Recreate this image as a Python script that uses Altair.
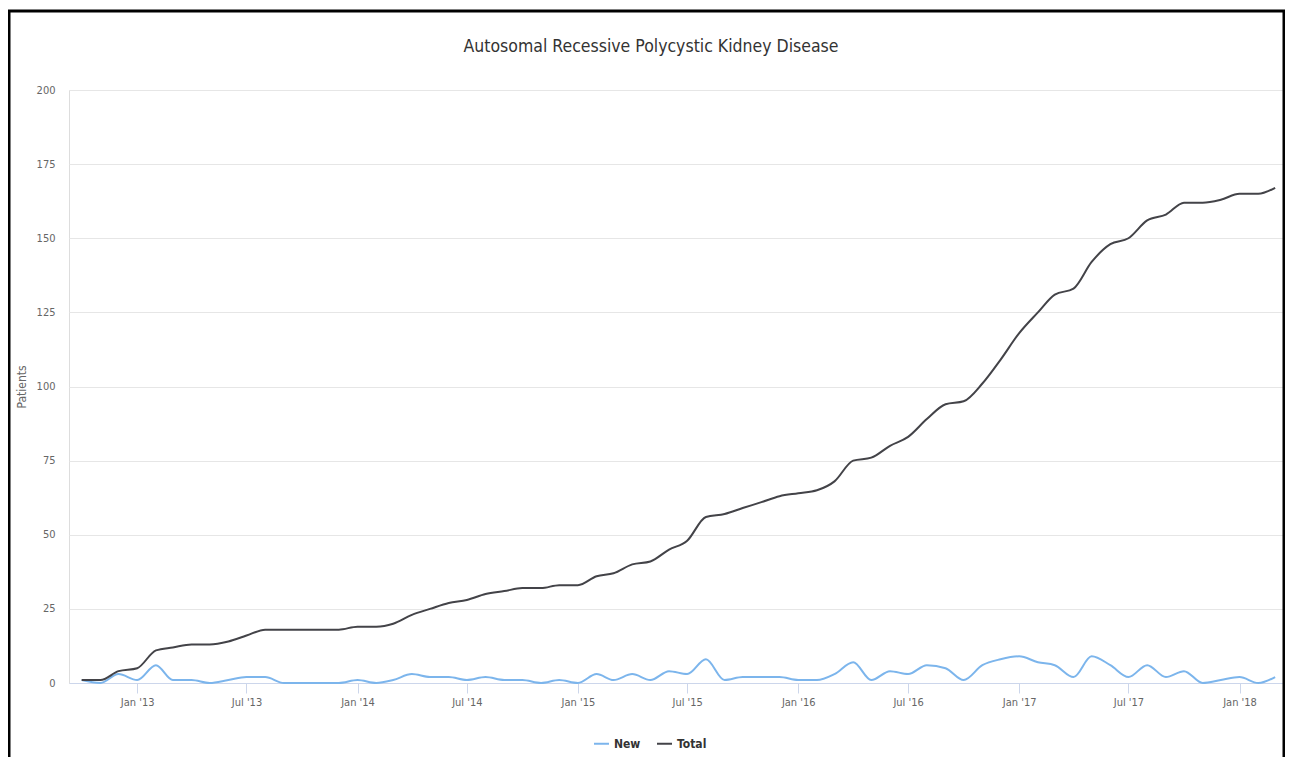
import altair as alt
import pandas as pd

months = [
    "2012-10-01", "2012-11-01", "2012-12-01",
    "2013-01-01", "2013-02-01", "2013-03-01", "2013-04-01", "2013-05-01", "2013-06-01",
    "2013-07-01", "2013-08-01", "2013-09-01", "2013-10-01", "2013-11-01", "2013-12-01",
    "2014-01-01", "2014-02-01", "2014-03-01", "2014-04-01", "2014-05-01", "2014-06-01",
    "2014-07-01", "2014-08-01", "2014-09-01", "2014-10-01", "2014-11-01", "2014-12-01",
    "2015-01-01", "2015-02-01", "2015-03-01", "2015-04-01", "2015-05-01", "2015-06-01",
    "2015-07-01", "2015-08-01", "2015-09-01", "2015-10-01", "2015-11-01", "2015-12-01",
    "2016-01-01", "2016-02-01", "2016-03-01", "2016-04-01", "2016-05-01", "2016-06-01",
    "2016-07-01", "2016-08-01", "2016-09-01", "2016-10-01", "2016-11-01", "2016-12-01",
    "2017-01-01", "2017-02-01", "2017-03-01", "2017-04-01", "2017-05-01", "2017-06-01",
    "2017-07-01", "2017-08-01", "2017-09-01", "2017-10-01", "2017-11-01", "2017-12-01",
    "2018-01-01", "2018-02-01", "2018-03-01",
]

new_patients = [
    1, 0, 3,
    1, 6, 1, 1, 0, 1,
    2, 2, 0, 0, 0, 0,
    1, 0, 1, 3, 2, 2,
    1, 2, 1, 1, 0, 1,
    0, 3, 1, 3, 1, 4,
    3, 8, 1, 2, 2, 2,
    1, 1, 3, 7, 1, 4,
    3, 6, 5, 1, 6, 8,
    9, 7, 6, 2, 9, 6,
    2, 6, 2, 4, 0, 1,
    2, 0, 2,
]

total_patients = [
    1, 1, 4,
    5, 11, 12, 13, 13, 14,
    16, 18, 18, 18, 18, 18,
    19, 19, 20, 23, 25, 27,
    28, 30, 31, 32, 32, 33,
    33, 36, 37, 40, 41, 45,
    48, 56, 57, 59, 61, 63,
    64, 65, 68, 75, 76, 80,
    83, 89, 94, 95, 101, 109,
    118, 125, 131, 133, 142, 148,
    150, 156, 158, 162, 162, 163,
    165, 165, 167,
]

series_names = ["New", "Total"]
series_colors = ["#7cb5ec", "#434348"]
y_ticks = [0, 25, 50, 75, 100, 125, 150, 175, 200]

df = pd.DataFrame({
    "month": months + months,
    "series": [series_names[0]] * len(months) + [series_names[1]] * len(months),
    "value": new_patients + total_patients,
})

FONT = "Liberation Sans Narrow, DejaVu Sans Condensed, Roboto, sans-serif"

lines = alt.Chart(df).mark_line(interpolate="monotone", strokeWidth=2).encode(
    x=alt.X(
        "month:T",
        scale=alt.Scale(
            type="utc",
            domain=[
                alt.DateTime(year=2012, month=9, date=10, utc=True),
                alt.DateTime(year=2018, month=3, date=14, utc=True),
            ],
        ),
        axis=alt.Axis(
            format="%b '%y",
            tickCount={"interval": "month", "step": 6},
            grid=False,
            domainColor="#ccd6eb",
            tickColor="#ccd6eb",
            tickSize=10,
            labelColor="#666666",
            labelFontSize=11,
            labelFont=FONT,
            labelPadding=3,
            labelFlush=False,
            title=None,
        ),
    ),
    y=alt.Y(
        "value:Q",
        scale=alt.Scale(domain=[0, 200]),
        axis=alt.Axis(
            values=y_ticks,
            grid=True,
            gridColor="#e6e6e6",
            domain=False,
            ticks=False,
            labelColor="#666666",
            labelFontSize=11,
            labelFont=FONT,
            labelPadding=14,
            title="Patients",
            titleColor="#666666",
            titleFontSize=12,
            titleFontWeight="normal",
            titleFont=FONT,
            titlePadding=8,
        ),
    ),
    color=alt.Color(
        "series:N",
        scale=alt.Scale(domain=series_names, range=series_colors),
        legend=alt.Legend(
            title=None,
            orient="none",
            legendX=524,
            legendY=645,
            direction="horizontal",
            symbolType="stroke",
            symbolStrokeWidth=2,
            symbolSize=225,
            labelFontWeight="bold",
            labelFontSize=12,
            labelFont=FONT,
            labelColor="#333333",
            labelOffset=4,
            columnPadding=12,
        ),
    ),
)

frame = alt.Chart(pd.DataFrame({"f": [0]})).mark_rect(
    filled=False, stroke="black", strokeWidth=3
).encode(
    x=alt.value(-60),
    x2=alt.value(1215),
    y=alt.value(-79),
    y2=alt.value(720),
)

chart = alt.layer(lines, frame).properties(
    width=1214,
    height=593,
    autosize=alt.AutoSizeParams(type="none"),
    padding={"left": 61, "top": 82, "right": 2, "bottom": 74},
    title=alt.Title(
        "Autosomal Recessive Polycystic Kidney Disease",
        fontSize=17.5,
        font=FONT,
        color="#333333",
        fontWeight="normal",
        anchor="middle",
        baseline="alphabetic",
        offset=0,
        dy=60,
        dx=-25,
    ),
).configure_view(stroke=None).configure(background="white")

chart.save("out.html", embed_options={"renderer": "svg", "actions": False})
